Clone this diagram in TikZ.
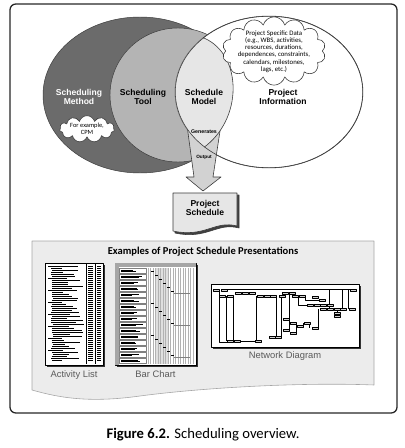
\documentclass[tikz,border=0pt]{standalone}
\usepackage{fontspec}
\setmainfont{Carlito}
\newfontfamily\headfont{Liberation Sans}
\usetikzlibrary{positioning,calc,shapes.symbols,shadows}
\definecolor{sDark}{HTML}{6B6B6B}
\definecolor{sMid}{HTML}{B4B4B4}
\definecolor{sLight}{HTML}{E6E6E6}
\definecolor{sArrow}{HTML}{D2D2D2}
\definecolor{sPanel}{HTML}{ECECEC}
\definecolor{sLine}{HTML}{3A3A3A}
\definecolor{sLabel}{HTML}{5A5A5A}

\tikzset{
  setlabel/.style={font=\headfont\bfseries\fontsize{7.3}{8.3}\selectfont,align=center,inner sep=0pt},
  note/.style={cloud,cloud puffs=11,cloud ignores aspect,draw=sLine,fill=white,
    line width=0.5pt,inner sep=0pt},
  notetext/.style={align=center,inner sep=0pt,font=\fontsize{5.8}{6.1}\selectfont},
  thumb/.style={draw=black,line width=0.8pt,fill=white,inner sep=0pt,
    drop shadow={shadow xshift=1.3pt,shadow yshift=-1.3pt,opacity=1,fill=black!80}},
  caplabel/.style={font=\headfont\fontsize{8}{9}\selectfont,text=sLabel,inner sep=0pt},
  tiny/.style={font=\headfont\bfseries\fontsize{4.5}{5}\selectfont,inner sep=0pt}
}

\begin{document}
\begin{tikzpicture}[x=0.03cm,y=-0.03cm,line join=round]
  \useasboundingbox (0,0) rectangle (405,448);
  \draw[line width=1.1pt,rounded corners=5pt,black!85] (10,4) rectangle (397,413);

  % sets
  \filldraw[fill=sDark,draw=sLine,line width=0.4pt] (140,95) ellipse [x radius=97,y radius=78];
  \filldraw[fill=sMid,draw=sLine,line width=0.4pt] (178,95) ellipse [x radius=68,y radius=67];
  \filldraw[fill=white,draw=sLine,line width=0.4pt] (269,92) ellipse [x radius=94,y radius=76];

  % output arrow, under the model
  \filldraw[fill=sArrow,draw=sLine,line width=0.5pt]
    (186,118) -- (222,118) -- (213,177) -- (221,177) -- (203,191) -- (186,177) -- (194,177) -- cycle;

  \begin{scope}
    \clip (269,92) ellipse [x radius=94,y radius=76];
    \filldraw[fill=sLight,draw=sLine,line width=0.5pt]
      (204,38) .. controls (243,55) and (243,120) .. (203,148) -- (150,148) -- (150,38) -- cycle;
    \draw[sLine,line width=1pt] (269,92) ellipse [x radius=94,y radius=76];
  \end{scope}

  \node[setlabel,text=white] (method) at (79,97) {Scheduling\\Method};
  \node[setlabel] (tool) at (143,97) {Scheduling\\Tool};
  \node[setlabel] (model) at (204,97) {Schedule\\Model};
  \node[setlabel] (info) at (283,97) {Project\\Information};
  \node[note,minimum width=1.65cm,minimum height=0.8cm] (cpm) at (87,129) {};
  \node[notetext,font=\fontsize{5.5}{6}\selectfont] (cpmtext) at (cpm.center) {For example,\\CPM};
  \node[note,cloud puffs=14,minimum width=3.1cm,minimum height=2.05cm] (data) at (274,51) {};
  \node[notetext] (datatext) at ([yshift=-0.5pt]data.center)
    {Project Specific Data\\(e.g., WBS, activities,\\resources, durations,\\dependences, constraints,\\calendars, milestones,\\lags, etc.)};
  \node[tiny] (gen) at (204,132) {Generates};
  \node[tiny,font=\headfont\bfseries\fontsize{4}{5}\selectfont] (outp) at (204,157) {Output};

  % project schedule document
  \foreach \s/\c in {2/black!75,0/sLight}
    \filldraw[shift={(\s,\s)},fill=\c,draw=sLine,line width=0.5pt]
      (173,193) -- (237,193) -- (237,226) .. controls (215,220) and (205,238) .. (173,231) -- cycle;
  \node[setlabel] (sched) at (205,208) {Project\\Schedule};

  % presentations panel
  \filldraw[fill=sPanel,draw=gray!70,line width=0.5pt]
    (32,241) -- (374,241) -- (374,385) .. controls (300,382) and (200,388) .. (140,396)
    .. controls (90,403) and (60,398) .. (32,390) -- cycle;
  \node[font=\bfseries\fontsize{9}{10}\selectfont] (examples) at (203,252)
    {Examples of Project Schedule Presentations};

  \node[thumb,minimum width=1.74cm,minimum height=3.06cm] (actlist) at (74,314) {};
  \node[thumb,minimum width=2.43cm,minimum height=3.06cm] (barchart) at (155.5,314) {};
  \node[thumb,minimum width=4.44cm,minimum height=1.89cm] (network) at (285,315.5) {};
  \node[caplabel,below=4pt of actlist] (actlab) {Activity List};
  \node[caplabel,below=4pt of barchart] (barlab) {Bar Chart};
  \node[caplabel,below=3pt of network] (netlab) {Network Diagram};

  % activity list rows
  \pgfmathsetseed{5}
  \foreach \r in {0,...,47}{
    \pgfmathsetmacro{\yy}{266+2*\r}
    \pgfmathsetmacro{\ind}{mod(\r,6)==0 ? 0 : 3+2*rnd}
    \pgfmathsetmacro{\len}{10+22*rnd}
    \draw[line width=0.45pt] (48+\ind,\yy) -- ++(\len,0);
    \draw[line width=0.45pt] (88,\yy) -- (93,\yy) (97,\yy) -- (101,\yy);
  }
  \draw[line width=0.3pt] (86,264) -- (86,364) (95,264) -- (95,364);

  % bar chart
  \fill[gray!70] (115,263) rectangle (118.5,365);
  \fill[gray!70] (115,263) rectangle (196,267);
  \fill[gray!25] (156,268) rectangle (168,364);
  \foreach \x in {148,150.5,...,194}
    \draw[gray!60,line width=0.25pt] (\x,268) -- (\x,364);
  \foreach \r in {0,...,15}{
    \pgfmathsetmacro{\yy}{268.5+6*\r}
    \filldraw[fill=white,draw=gray,line width=0.3pt] (119.5,\yy) rectangle (146,\yy+4.5);
    \draw[line width=0.4pt] (121,\yy+1.4) -- ++(12+10*rnd,0) (121,\yy+3.2) -- ++(8+12*rnd,0);
  }
  \foreach \y in {271,303,335}{
    \foreach \k in {0,...,5}
      \draw[line width=0.7pt] (151+4*\k,\y+4*\k) -- ++(2.5,0);
    \draw[gray,line width=0.3pt] (174,\y+22) -- (190,\y+22);
  }

  % network diagram
  \draw[line width=0.3pt]
    (224,289) -- (353,289)
    (219,290) -- (219,342) -- (230,342)
    (226,296) -- (226,341)
    (233,296) -- (233,341) -- (258,341)
    (256,296) -- (256,341)
    (276,296) -- (276,337) (281,296) -- (281,337)
    (289,293) -- (289,330)
    (298,296) -- (298,305) -- (310,305)
    (305,296) -- (305,300) -- (322,300)
    (329,289) -- (329,309) (342,289) -- (342,309) (348,289) -- (348,309)
    (296,323) -- (296,333) (303,323) -- (303,326) (309,323) -- (309,328)
    (318,309) -- (318,328) (337,309) -- (337,316);
  \foreach \x/\y in {216/290,224/290,222/296,230/296,238/293,245/293,252/293,
      260/296,267/296,273/296,285/293,292/293,282/296,295/296,302/296,
      315/297,322/300,310/305,317/305,323/305,330/305,
      323/309,330/309,337/309,343/309,352/309,337/313,337/316,353/290,
      286/319,293/323,307/323,300/326,315/328,286/330,293/333,
      230/341,237/341,258/341,272/337,278/337}
    \filldraw[fill=gray!35,draw=black,line width=0.3pt] (\x-3.2,\y-1.2) rectangle (\x+3.2,\y+1.2);

  \node[font=\fontsize{12.5}{14}\selectfont] (caption) at (203,435)
    {\textbf{Figure 6.2.} Scheduling overview.};
\end{tikzpicture}
\end{document}
